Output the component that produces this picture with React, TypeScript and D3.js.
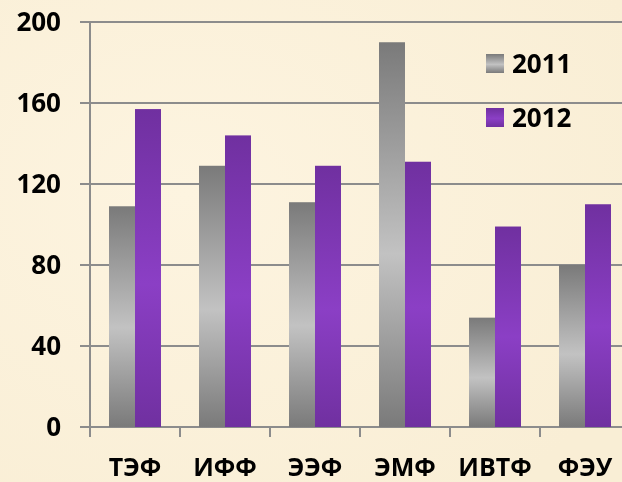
import React from "react";
import * as d3 from "d3";

const categories = ["ТЭФ", "ИФФ", "ЭЭФ", "ЭМФ", "ИВТФ", "ФЭУ"];
const series = ["2011", "2012"];
const values2011 = [109, 129, 111, 190, 54, 80];
const values2012 = [157, 144, 129, 131, 99, 110];
const yTicks = [0, 40, 80, 120, 160, 200];

const W = 622;
const H = 482;
const FONT = "'Open Sans', 'DejaVu Sans', sans-serif";

export default function App() {
  const x = d3.scaleBand<string>().domain(categories).range([90, 630]).paddingInner(0.4222).paddingOuter(0.2111);
  const xs = d3.scaleBand<string>().domain(series).range([0, x.bandwidth()]);
  const y = d3.scaleLinear().domain([0, 200]).range([427, 22]);
  const data = [values2011, values2012];
  const fills = ["url(#gGray)", "url(#gPurple)"];
  const step = x.step();

  return (
    <svg width={W} height={H} style={{ position: "fixed", left: 0, top: 0 }} fontFamily={FONT}>
      <defs>
        <linearGradient id="gGray" x1="0" y1="0" x2="0" y2="1">
          <stop offset="0" stopColor="#7a7a7a" />
          <stop offset="0.55" stopColor="#c2c2c2" />
          <stop offset="1" stopColor="#7a7a7a" />
        </linearGradient>
        <linearGradient id="gPurple" x1="0" y1="0" x2="0" y2="1">
          <stop offset="0" stopColor="#7030a0" />
          <stop offset="0.55" stopColor="#8b3fc5" />
          <stop offset="1" stopColor="#7030a0" />
        </linearGradient>
        <radialGradient id="bg1" cx="0.3" cy="0.4" r="0.8">
          <stop offset="0" stopColor="#fdf4e0" />
          <stop offset="1" stopColor="#f9eed5" />
        </radialGradient>
      </defs>
      <rect x={0} y={0} width={W} height={H} fill="url(#bg1)" />
      {yTicks.map((t) => (
        <g key={t}>
          <line x1={80} x2={W} y1={y(t)} y2={y(t)} stroke="#8c8c8c" strokeWidth={2} />
          <text x={61} y={y(t)} dy="0.36em" textAnchor="end" fontSize={26} fontWeight={700} fill="#000">
            {t}
          </text>
        </g>
      ))}
      <line x1={90} x2={90} y1={y(200) - 1} y2={y(0) + 10} stroke="#8c8c8c" strokeWidth={2} />
      {categories.map((c, i) => (
        <line key={c} x1={90 + step * (i + 1)} x2={90 + step * (i + 1)} y1={y(0)} y2={y(0) + 10} stroke="#8c8c8c" strokeWidth={2} />
      ))}
      {categories.map((c, i) => (
        <g key={c} transform={`translate(${x(c)},0)`}>
          {series.map((s, j) => (
            <rect key={s} x={xs(s)} y={y(data[j][i])} width={xs.bandwidth()} height={y(0) - y(data[j][i])} fill={fills[j]} />
          ))}
        </g>
      ))}
      {categories.map((c) => (
        <text key={c} x={(x(c) as number) + x.bandwidth() / 2} y={476} textAnchor="middle" fontSize={25} fontWeight={700} fill="#000">
          {c}
        </text>
      ))}
      {series.map((s, j) => (
        <g key={s} transform={`translate(486,${54 + j * 54})`}>
          <rect x={0} y={0} width={18} height={19} fill={fills[j]} />
          <text x={26} y={19} fontSize={26} fontWeight={700} fill="#000">
            {s}
          </text>
        </g>
      ))}
    </svg>
  );
}
